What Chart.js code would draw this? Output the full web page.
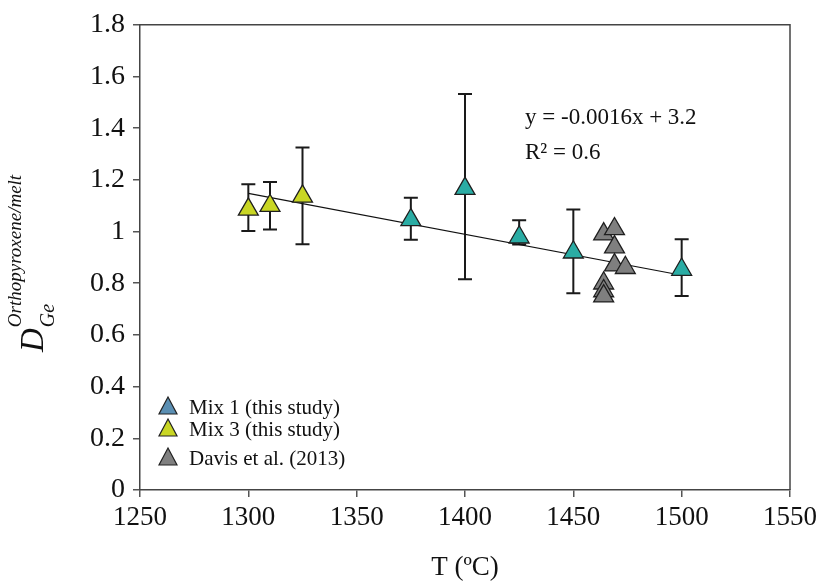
<!DOCTYPE html>
<html>
<head>
<meta charset="utf-8">
<script src="https://cdn.jsdelivr.net/npm/chart.js@4"></script>
<style>
  html, body { margin: 0; padding: 0; background: #fff; }
  #wrap { width: 822px; height: 588px; }
</style>
</head>
<body>
<div id="wrap"><canvas id="c" width="822" height="588"></canvas></div>
<script>
(function(){
    "use strict";

    // values
    const mix1T   = [1375, 1400, 1425, 1450, 1500];
    const mix1D   = [1.045, 1.166, 0.978, 0.92, 0.853];
    const mix1Hi  = [1.131, 1.532, 1.044, 1.085, 0.970];
    const mix1Lo  = [0.968, 0.815, 0.950, 0.761, 0.751];

    const mix3T   = [1300, 1310, 1325];
    const mix3D   = [1.086, 1.10, 1.136];
    const mix3Hi  = [1.183, 1.192, 1.325];
    const mix3Lo  = [1.002, 1.008, 0.951];

    const davisT  = [1464, 1469, 1469, 1469, 1474, 1464, 1464, 1464];
    const davisD  = [0.99, 1.01, 0.94, 0.87, 0.86, 0.80, 0.77, 0.75];

    const trendT  = [1300, 1500];
    const trendD  = [1.148, 0.831];

    const xTicks  = [1250, 1300, 1350, 1400, 1450, 1500, 1550];
    const yTicks  = [0, 0.2, 0.4, 0.6, 0.8, 1, 1.2, 1.4, 1.6, 1.8];

    const legendItems = [
        { label: 'Mix 1 (this study)', color: '#5b8fb3' },
        { label: 'Mix 3 (this study)', color: '#c9d624' },
        { label: 'Davis et al. (2013)', color: '#808080' }
    ];

    const SERIF = '"Liberation Serif", "DejaVu Serif", serif';
    const pts = (xs, ys) => xs.map((x, i) => ({ x: x, y: ys[i] }));

    const errorBars = {
        id: 'errorBars',
        beforeDatasetsDraw(chart) {
            const ctx = chart.ctx, xs = chart.scales.x, ys = chart.scales.y;
            const groups = [[mix1T, mix1Hi, mix1Lo], [mix3T, mix3Hi, mix3Lo]];
            ctx.save();
            ctx.strokeStyle = '#1a1a1a';
            ctx.lineWidth = 2;
            groups.forEach(([t, hi, lo]) => {
                t.forEach((tv, i) => {
                    const px = xs.getPixelForValue(tv);
                    const top = ys.getPixelForValue(hi[i]), bot = ys.getPixelForValue(lo[i]);
                    ctx.beginPath();
                    ctx.moveTo(px, top); ctx.lineTo(px, bot);
                    ctx.moveTo(px - 7, top); ctx.lineTo(px + 7, top);
                    ctx.moveTo(px - 7, bot); ctx.lineTo(px + 7, bot);
                    ctx.stroke();
                });
            });
            ctx.restore();
        }
    };

    const decorations = {
        id: 'decorations',
        afterDraw(chart) {
            const ctx = chart.ctx, a = chart.chartArea;
            ctx.save();
            // frame top and right
            ctx.strokeStyle = '#444';
            ctx.lineWidth = 1.5;
            ctx.beginPath();
            ctx.moveTo(a.left, a.top); ctx.lineTo(a.right, a.top); ctx.lineTo(a.right, a.bottom);
            ctx.stroke();

            // equation
            ctx.fillStyle = '#111';
            ctx.font = '23px ' + SERIF;
            ctx.textBaseline = 'alphabetic';
            ctx.fillText('y = -0.0016x + 3.2', 525, 124);
            ctx.fillText('R\u00B2 = 0.6', 525, 159);

            // legend
            ctx.font = '21px ' + SERIF;
            const rows = [407, 429, 458];
            legendItems.forEach((it, i) => {
                const cx = 168, cy = rows[i];
                ctx.beginPath();
                ctx.moveTo(cx, cy - 10); ctx.lineTo(cx + 9, cy + 7); ctx.lineTo(cx - 9, cy + 7); ctx.closePath();
                ctx.fillStyle = it.color; ctx.fill();
                ctx.strokeStyle = '#222'; ctx.lineWidth = 1.2; ctx.stroke();
                ctx.fillStyle = '#111';
                ctx.fillText(it.label, 189, cy + 7);
            });

            // y axis title: D_Ge^{Orthopyroxene/melt}
            ctx.translate(43, 352);
            ctx.rotate(-Math.PI / 2);
            ctx.font = 'italic 33px ' + SERIF;
            ctx.fillText('D', 0, 0);
            const dw = ctx.measureText('D').width;
            ctx.font = 'italic 20px ' + SERIF;
            ctx.fillText('Ge', dw + 1, 11);
            ctx.font = 'italic 19px ' + SERIF;
            ctx.fillText('Orthopyroxene/melt', dw + 1, -22);
            ctx.restore();
        }
    };

    const triangle = (fill) => ({
        pointStyle: 'triangle', pointRadius: 11.5, pointHoverRadius: 11.5,
        backgroundColor: fill, borderColor: '#1f1f1f', borderWidth: 1.3, showLine: false
    });

    new Chart(document.getElementById('c'), {
        type: 'scatter',
        data: {
            datasets: [
                Object.assign({ label: 'trend', data: pts(trendT, trendD), type: 'line', showLine: true,
                    borderColor: '#111', borderWidth: 1.2, pointRadius: 0, fill: false, order: 5 }),
                Object.assign({ label: 'Mix 3 (this study)', data: pts(mix3T, mix3D), order: 2 }, triangle('#c9d624')),
                Object.assign({ label: 'Mix 1 (this study)', data: pts(mix1T, mix1D), order: 2 }, triangle('#2aaca4')),
                Object.assign({ label: 'Davis et al. (2013)', data: pts(davisT, davisD), order: 1 }, triangle('#7f7f7f'))
            ]
        },
        options: {
            responsive: false,
            animation: false,
            layout: { padding: { top: 17, right: 32, left: 0, bottom: 0 } },
            plugins: { legend: { display: false }, tooltip: { enabled: false } },
            scales: {
                x: {
                    type: 'linear', min: 1250, max: 1550,
                    afterBuildTicks: s => { s.ticks = xTicks.map(v => ({ value: v })); },
                    afterFit: s => { s.height = 98; },
                    ticks: { color: '#111', font: { family: SERIF, size: 27 }, padding: 5, maxRotation: 0,
                        callback: v => String(v) },
                    grid: { drawOnChartArea: false, drawTicks: true, tickLength: 7, color: '#555', lineWidth: 1.5 },
                    border: { display: true, color: '#444', width: 1.5 },
                    title: { display: true, text: 'T (\u00BAC)', color: '#111', font: { family: SERIF, size: 27 }, padding: { top: 2 } }
                },
                y: {
                    type: 'linear', min: 0, max: 1.8,
                    afterBuildTicks: s => { s.ticks = yTicks.map(v => ({ value: v })); },
                    afterFit: s => { s.width = 140; },
                    ticks: { color: '#111', font: { family: SERIF, size: 28 }, padding: 8,
                        callback: v => String(Math.round(v * 10) / 10) },
                    grid: { drawOnChartArea: false, drawTicks: true, tickLength: 7, color: '#555', lineWidth: 1.5 },
                    border: { display: true, color: '#444', width: 1.5 }
                }
            }
        },
        plugins: [errorBars, decorations]
    });
})();
</script>
</body>
</html>
